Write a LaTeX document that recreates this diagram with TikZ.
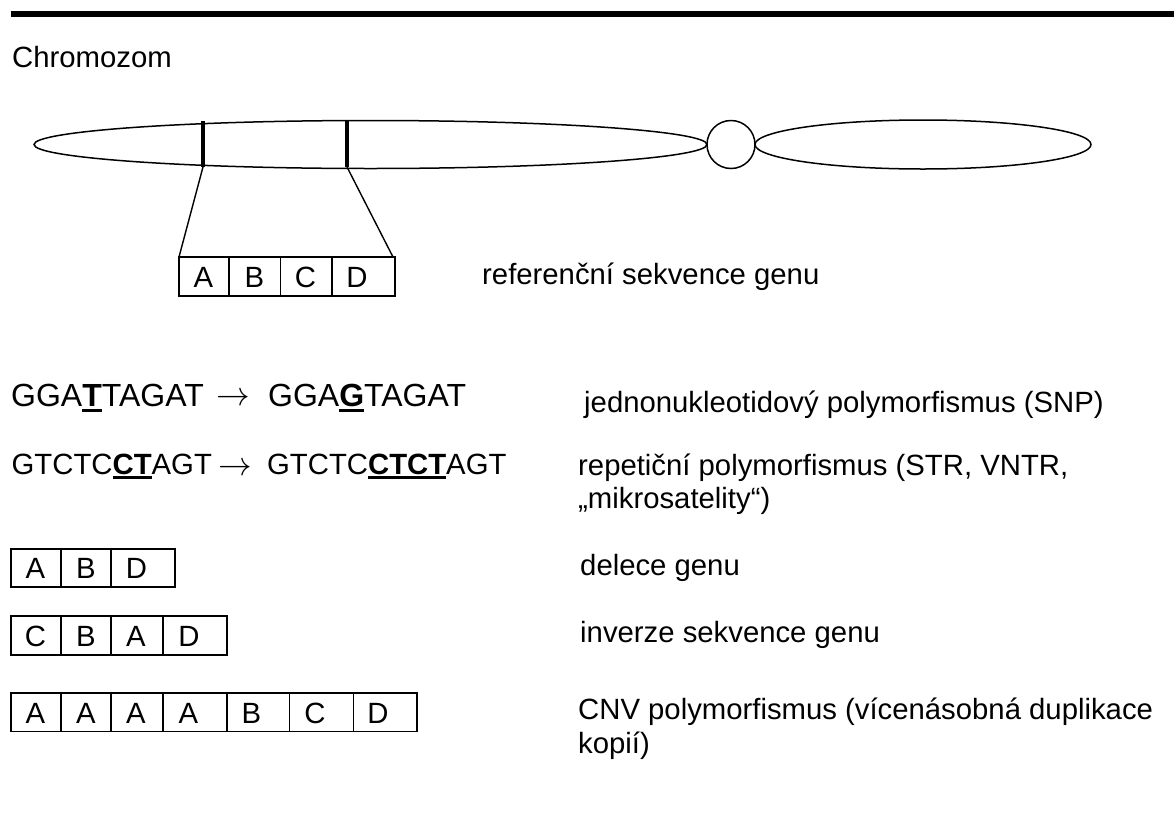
\documentclass[tikz,border=0pt]{standalone}
\usepackage{fontspec}
\setmainfont{Liberation Sans}
\newcommand{\ulA}[1]{\setbox0\hbox{#1}\rlap{\rule[-6pt]{\wd0}{3pt}}\box0}
\newcommand{\ulB}[1]{\setbox0\hbox{#1}\rlap{\rule[-4.5pt]{\wd0}{2.6pt}}\box0}
\newcommand{\longarr}{\scalebox{1.35}{$\rightarrow$}}
\begin{document}
\begin{tikzpicture}[x=1pt,y=-1pt,
  txt/.style={inner sep=0pt, anchor=base west, font=\fontsize{29.3}{33.7}\selectfont},
  big/.style={inner sep=0pt, anchor=base west, font=\fontsize{32}{37}\selectfont},
  arr/.style={inner sep=0pt, anchor=base, font=\fontsize{24.88}{30}\selectfont},
  lett/.style={inner sep=0pt, anchor=base, font=\fontsize{29.3}{33.7}\selectfont},
  outline/.style={line width=1.6pt},
  chrom/.style={line width=1.5pt},
  bar/.style={line width=3.5pt},
  link/.style={line width=1.4pt},
]
\useasboundingbox (0,0) rectangle (1174,825);
% top rule
\fill (11,11) rectangle (1174,17);
\node[txt] (title) at (12,67) {Chromozom};

% chromosome
\draw[chrom] (370.5,144.5) ellipse [x radius=336.5, y radius=24];
\draw[chrom] (731,144.5) circle [radius=24];
\draw[chrom] (923,144.5) ellipse [x radius=168, y radius=24.5];
\draw[bar] (203,121) -- (203,167) coordinate (b1);
\draw[bar] (347,121) -- (347,167) coordinate (b2);

% reference gene box
\coordinate (rTL) at (179,257);
\coordinate (rTR) at (393,257);
\draw[outline] (179,257) rectangle (395,296);
\draw[outline] (229,257) -- (229,296) (280.5,257) -- (280.5,296) (332,257) -- (332,296);
\draw[link] (b1) -- (rTL);
\draw[link] (b2) -- (rTR);
\node[lett] (rA) at (203.5,287) {A};
\node[lett] (rB) at (254.5,287) {B};
\node[lett] (rC) at (305.5,287) {C};
\node[lett] (rD) at (357,287) {D};
\node[txt] (reflab) at (482,284) {referenční sekvence genu};

% SNP row
\node[big] (s1) at (11,406) {GGA\ulA{\textbf{T}}TAGAT};
\node[arr] (s2) at (233,405.5) {\longarr};
\node[big] (s3) at (268,406) {GGA\ulA{\textbf{G}}TAGAT};
\node[txt] (s4) at (584,412) {jednonukleotidový polymorfismus (SNP)};

% STR row
\node[txt] (t1) at (11.5,474.5) {GTCTC\ulB{\textbf{CT}}AGT};
\node[arr] (t2) at (235,475.5) {\longarr};
\node[txt] (t3) at (267,474.5) {GTCTC\ulB{\textbf{CTCT}}AGT};
\node[txt] (t4) at (578,475) {repetiční polymorfismus (STR, VNTR,};
\node[txt] (t5) at (578,508) {„mikrosatelity“)};

% deletion
\draw[outline] (11,549) rectangle (175,587);
\draw[outline] (61,549) -- (61,587) (111,549) -- (111,587);
\node[lett] (dA) at (35.5,578.5) {A};
\node[lett] (dB) at (86,578.5) {B};
\node[lett] (dD) at (136.5,578.5) {D};
\node[txt] (dlab) at (580,575) {delece genu};

% inversion
\draw[outline] (11,616) rectangle (227,655);
\draw[outline] (61,616) -- (61,655) (111,616) -- (111,655) (163,616) -- (163,655);
\node[lett] (iC) at (35.5,646.5) {C};
\node[lett] (iB) at (86,646.5) {B};
\node[lett] (iA) at (136,646.5) {A};
\node[lett] (iD) at (189,646.5) {D};
\node[txt] (ilab) at (580,642) {inverze sekvence genu};

% CNV
\draw[outline] (11,693) rectangle (417,731.5);
\draw[outline] (61,693) -- (61,731.5) (111,693) -- (111,731.5) (163,693) -- (163,731.5)
  (227,693) -- (227,731.5) (289.5,693) -- (289.5,731.5) (353.5,693) -- (353.5,731.5);
\node[lett] (c1) at (35.5,723) {A};
\node[lett] (c2) at (86,723) {A};
\node[lett] (c3) at (136,723) {A};
\node[lett] (c4) at (188.5,723) {A};
\node[lett] (c5) at (251.5,723) {B};
\node[lett] (c6) at (315,723) {C};
\node[lett] (c7) at (378,723) {D};
\node[txt] (clab) at (578,719) {CNV polymorfismus (vícenásobná duplikace};
\node[txt] (clab2) at (578,753) {kopií)};
\end{tikzpicture}
\end{document}
